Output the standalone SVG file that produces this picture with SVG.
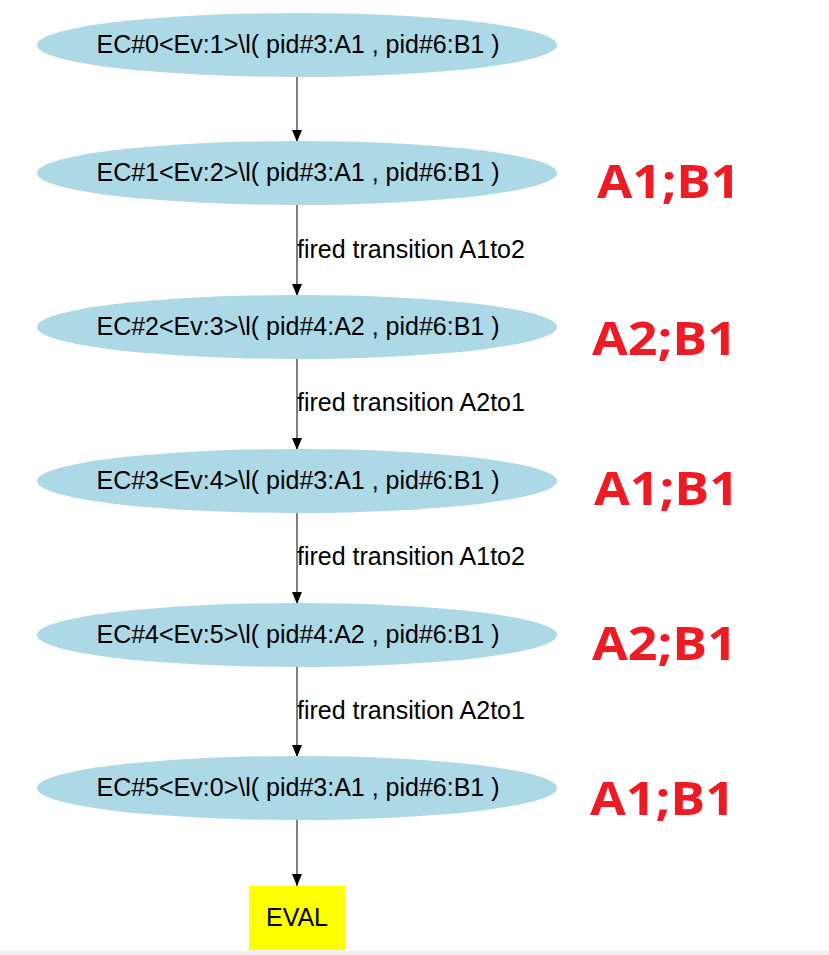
<svg xmlns="http://www.w3.org/2000/svg" width="829" height="955" viewBox="0 0 829 955">
<style>
.n ellipse{fill:#add8e6;stroke:none}
.n text,.lbl{font-family:"Liberation Sans",Arial,sans-serif;font-size:25px;fill:#000}
.n text{text-anchor:middle}
.e line{stroke:#000;stroke-width:1}
.ann{font-family:"Open Sans","Liberation Sans",sans-serif;font-weight:bold;font-size:46px;fill:#ed1c24}
</style>
<defs>
<marker id="ah" markerWidth="12" markerHeight="10" refX="12" refY="5" orient="auto" markerUnits="userSpaceOnUse" viewBox="0 0 12 10">
<path d="M0,0 L12,5 L0,10 z" fill="#000"/>
</marker>
</defs>
<rect width="829" height="955" fill="#fff"/>
<rect x="0" y="951" width="829" height="4" fill="#f0f0f0"/>
<g class="e">
<line x1="297" y1="77" x2="297" y2="142" marker-end="url(#ah)"/>
<line x1="297" y1="205" x2="297" y2="296" marker-end="url(#ah)"/>
<line x1="297" y1="359" x2="297" y2="450" marker-end="url(#ah)"/>
<line x1="297" y1="513" x2="297" y2="604" marker-end="url(#ah)"/>
<line x1="297" y1="667" x2="297" y2="757" marker-end="url(#ah)"/>
<line x1="297" y1="820" x2="297" y2="886" marker-end="url(#ah)"/>
<text class="lbl" x="297" y="258">fired transition A1to2</text>
<text class="lbl" x="297" y="411">fired transition A2to1</text>
<text class="lbl" x="297" y="565">fired transition A1to2</text>
<text class="lbl" x="297" y="719">fired transition A2to1</text>
</g>
<g id="n0" class="n"><ellipse cx="297" cy="45" rx="260" ry="32"/><text x="298" y="53">EC#0&lt;Ev:1&gt;\l( pid#3:A1 , pid#6:B1 )</text></g>
<g id="n1" class="n"><ellipse cx="297" cy="173" rx="260" ry="32"/><text x="298" y="181">EC#1&lt;Ev:2&gt;\l( pid#3:A1 , pid#6:B1 )</text></g>
<g id="n2" class="n"><ellipse cx="297" cy="327" rx="260" ry="32"/><text x="298" y="335">EC#2&lt;Ev:3&gt;\l( pid#4:A2 , pid#6:B1 )</text></g>
<g id="n3" class="n"><ellipse cx="297" cy="481" rx="260" ry="32"/><text x="298" y="489">EC#3&lt;Ev:4&gt;\l( pid#3:A1 , pid#6:B1 )</text></g>
<g id="n4" class="n"><ellipse cx="297" cy="635" rx="260" ry="32"/><text x="298" y="643">EC#4&lt;Ev:5&gt;\l( pid#4:A2 , pid#6:B1 )</text></g>
<g id="n5" class="n"><ellipse cx="297" cy="788" rx="260" ry="32"/><text x="298" y="796">EC#5&lt;Ev:0&gt;\l( pid#3:A1 , pid#6:B1 )</text></g>
<g id="eval" class="n"><rect x="249" y="886" width="96" height="64" fill="#ffff00"/><text x="297" y="926">EVAL</text></g>
<g id="annotations">
<text class="ann" x="597" y="198" textLength="143" lengthAdjust="spacingAndGlyphs">A1;B1</text>
<text class="ann" x="592" y="355" textLength="145" lengthAdjust="spacingAndGlyphs">A2;B1</text>
<text class="ann" x="594" y="505" textLength="145" lengthAdjust="spacingAndGlyphs">A1;B1</text>
<text class="ann" x="592" y="660" textLength="145" lengthAdjust="spacingAndGlyphs">A2;B1</text>
<text class="ann" x="590" y="815" textLength="145" lengthAdjust="spacingAndGlyphs">A1;B1</text>
</g>
</svg>
